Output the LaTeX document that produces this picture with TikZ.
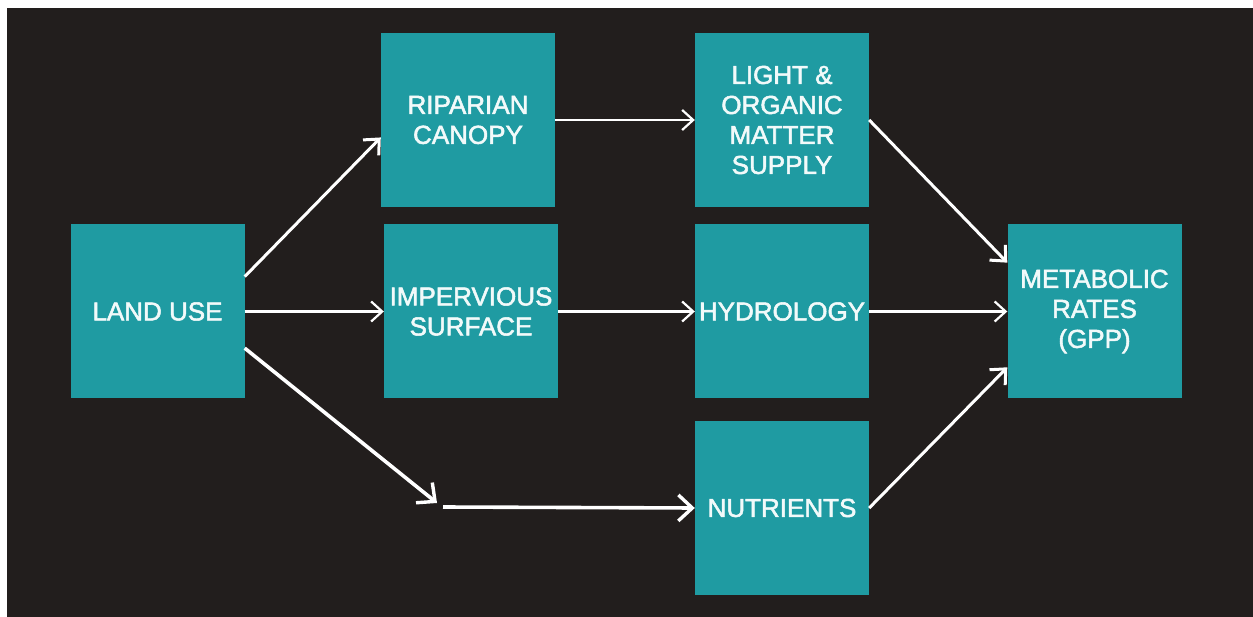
\documentclass[tikz,border=0pt]{standalone}
\usepackage{fontspec}
\setmainfont{Liberation Sans}
\newfontfamily\boxfont{Liberation Sans}[FakeBold=2]
\usetikzlibrary{arrows.meta,calc}
\definecolor{bg}{HTML}{221E1D}
\definecolor{teal}{HTML}{1F9BA2}
\definecolor{txt}{HTML}{F2FAFA}
\tikzset{
  box/.style={rectangle, fill=teal, minimum width=174pt, minimum height=174pt,
    inner sep=0pt, align=center, text=txt, font=\boxfont\fontsize{26}{30}\selectfont},
  conn/.style={draw=white, line width=2.2pt, -{Straight Barb[length=11pt,width=20pt,line width=2.2pt]}},
  conndiag/.style={draw=white, line width=3pt, -{Straight Barb[length=12pt,width=22pt,line width=3pt]}},
  connthick/.style={draw=white, line width=3.6pt, -{Straight Barb[length=14pt,width=26pt,line width=3.4pt]}}
}
\begin{document}
\begin{tikzpicture}[x=1pt,y=-1pt]
\useasboundingbox (0,0) rectangle (1253,617);
\fill[white] (0,0) rectangle (1253,617);
\fill[bg] (7,8) rectangle (1253,617);
\node[box] (lu) at (157.5,311.5) {LAND USE};
\node[box] (rip) at (468,120) {RIPARIAN\\CANOPY};
\node[box] (imp) at (471,311.5) {IMPERVIOUS\\SURFACE};
\node[box] (light) at (782,120) {LIGHT \&\\ORGANIC\\MATTER\\SUPPLY};
\node[box] (hyd) at (782,311.5) {HYDROLOGY};
\node[box] (nut) at (782,508) {NUTRIENTS};
\node[box] (met) at (1094.5,311.5) {METABOLIC\\RATES\\(GPP)};
\coordinate (bend) at (437,503);
\coordinate (restart) at (443,507);
\draw[conndiag] ($(lu.north east)!0.30!(lu.south east)$) -- ($(rip.north west)!0.60!(rip.south west)$);
\draw[conn] (lu.east) -- (imp.west);
\draw[connthick] ($(lu.north east)!0.71!(lu.south east)$) -- (bend);
\draw[connthick] (restart) -- (nut.west);
\draw[conn] (rip.east) -- (light.west);
\draw[conn] (imp.east) -- (hyd.west);
\draw[conndiag] (light.east) -- ($(met.north west)!0.22!(met.south west)$);
\draw[conn] (hyd.east) -- (met.west);
\draw[conndiag] (nut.east) -- ($(met.north west)!0.82!(met.south west)$);
\end{tikzpicture}
\end{document}
